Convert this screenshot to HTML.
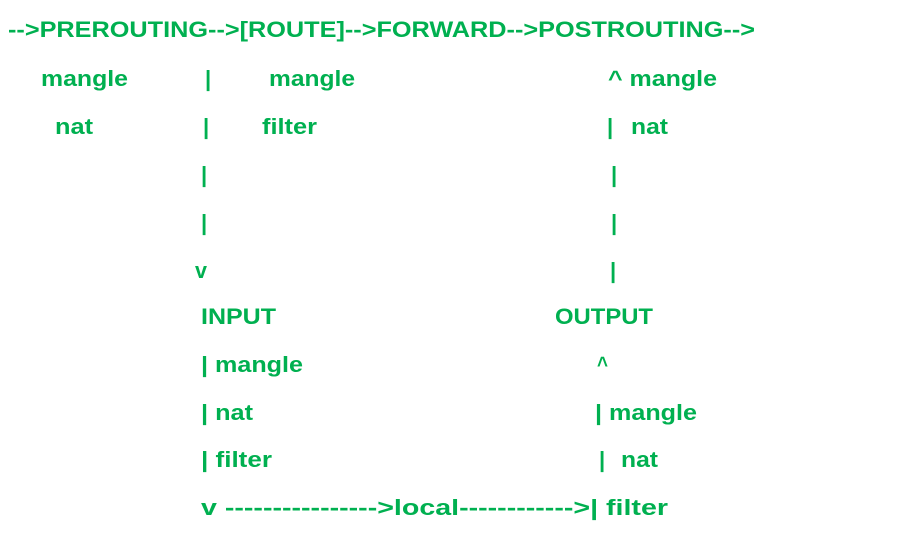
<!DOCTYPE html>
<html><head><style>
html,body{margin:0;padding:0;background:#fff;width:903px;height:538px;overflow:hidden}
text{font-family:"Liberation Sans",sans-serif;font-weight:bold;font-size:22px;fill:#00b050}
</style></head><body>
<svg width="903" height="538" xmlns="http://www.w3.org/2000/svg">
<text x="8" y="37" textLength="747" lengthAdjust="spacingAndGlyphs">--&gt;PREROUTING--&gt;[ROUTE]--&gt;FORWARD--&gt;POSTROUTING--&gt;</text>
<text x="41" y="86" textLength="87" lengthAdjust="spacingAndGlyphs">mangle</text>
<text x="205" y="86">|</text>
<text x="269" y="86" textLength="86" lengthAdjust="spacingAndGlyphs">mangle</text>
<text x="608" y="86" textLength="109" lengthAdjust="spacingAndGlyphs">^ mangle</text>
<text x="55" y="134" textLength="38" lengthAdjust="spacingAndGlyphs">nat</text>
<text x="203" y="134">|</text>
<text x="262" y="134" textLength="55" lengthAdjust="spacingAndGlyphs">filter</text>
<text x="607" y="134">|</text>
<text x="631" y="134" textLength="37" lengthAdjust="spacingAndGlyphs">nat</text>
<text x="201" y="182">|</text>
<text x="611" y="182">|</text>
<text x="201" y="230">|</text>
<text x="611" y="230">|</text>
<text x="195" y="278" textLength="12" lengthAdjust="spacingAndGlyphs">v</text>
<text x="610" y="278">|</text>
<text x="201" y="324" textLength="75" lengthAdjust="spacingAndGlyphs">INPUT</text>
<text x="555" y="324" textLength="98" lengthAdjust="spacingAndGlyphs">OUTPUT</text>
<text x="201" y="372" textLength="102" lengthAdjust="spacingAndGlyphs">| mangle</text>
<text x="597" y="372" textLength="11" lengthAdjust="spacingAndGlyphs">^</text>
<text x="201" y="420" textLength="52" lengthAdjust="spacingAndGlyphs">| nat</text>
<text x="595" y="420" textLength="102" lengthAdjust="spacingAndGlyphs">| mangle</text>
<text x="201" y="467" textLength="71" lengthAdjust="spacingAndGlyphs">| filter</text>
<text x="599" y="467">|</text>
<text x="621" y="467" textLength="37" lengthAdjust="spacingAndGlyphs">nat</text>
<text x="201" y="515" textLength="467" lengthAdjust="spacingAndGlyphs">v ----------------&gt;local------------&gt;| filter</text>
</svg>
</body></html>
